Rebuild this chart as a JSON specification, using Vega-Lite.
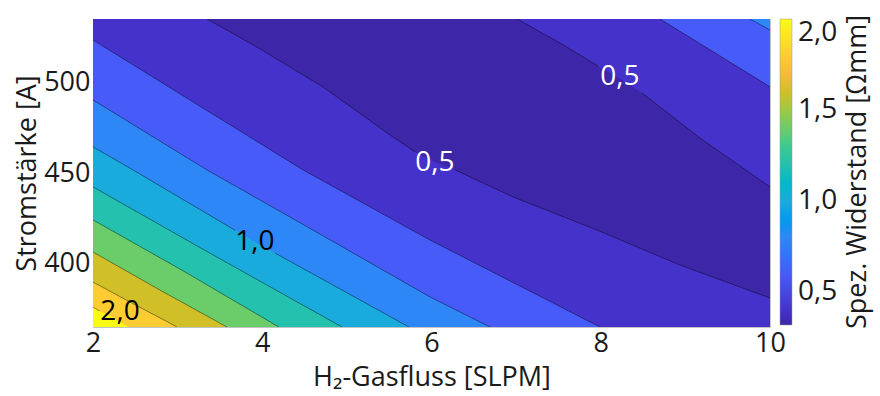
{
  "$schema": "https://vega.github.io/schema/vega-lite/v6.json",
  "width": 677,
  "height": 308,
  "autosize": "none",
  "padding": {"left": 93, "top": 19, "right": 110, "bottom": 69},
  "background": "white",
  "config": {
    "view": {"stroke": "#c4c4c4", "strokeWidth": 1},
    "font": "Open Sans",
    "axis": {"labelFont": "Open Sans", "titleFont": "Open Sans", "labelFontSize": 27, "titleFontSize": 27, "labelColor": "#1a1a1a", "titleColor": "#1a1a1a", "titleFontWeight": "normal", "grid": false, "domain": false, "ticks": false, "labelFlush": false}
  },
  "datasets": {
    "c": [
      {"c": "BG", "v": 2.0, "s": "h", "x": 2, "y": 357.8},
      {"c": "BG", "v": 2.0, "s": "h", "x": 10, "y": 357.8},
      {"c": "L20", "v": 1.8, "s": "a", "x": 2, "y": 376.0},
      {"c": "L20", "v": 1.8, "s": "a", "x": 2.08, "y": 373.8},
      {"c": "L20", "v": 1.8, "s": "h", "x": 2.2, "y": 371.1},
      {"c": "L20", "v": 1.8, "s": "h", "x": 2.4, "y": 365.6},
      {"c": "L20", "v": 1.8, "s": "h", "x": 2.67, "y": 357.8},
      {"c": "L20", "v": 1.8, "s": "h", "x": 10, "y": 357.8},
      {"c": "L18", "v": 1.6, "s": "a", "x": 2, "y": 389.8},
      {"c": "L18", "v": 1.6, "s": "a", "x": 2.48, "y": 377.7},
      {"c": "L18", "v": 1.6, "s": "a", "x": 2.97, "y": 365.6},
      {"c": "L18", "v": 1.6, "s": "a", "x": 3.21, "y": 357.8},
      {"c": "L18", "v": 1.6, "s": "a", "x": 10, "y": 357.8},
      {"c": "L16", "v": 1.4, "s": "a", "x": 2, "y": 406.4},
      {"c": "L16", "v": 1.4, "s": "a", "x": 2.79, "y": 385.4},
      {"c": "L16", "v": 1.4, "s": "a", "x": 3.56, "y": 365.6},
      {"c": "L16", "v": 1.4, "s": "a", "x": 3.86, "y": 357.8},
      {"c": "L16", "v": 1.4, "s": "a", "x": 10, "y": 357.8},
      {"c": "L14", "v": 1.2, "s": "a", "x": 2, "y": 424.1},
      {"c": "L14", "v": 1.2, "s": "a", "x": 3.087, "y": 395.4},
      {"c": "L14", "v": 1.2, "s": "a", "x": 4.174, "y": 365.6},
      {"c": "L14", "v": 1.2, "s": "a", "x": 4.45, "y": 357.8},
      {"c": "L14", "v": 1.2, "s": "a", "x": 10, "y": 357.8},
      {"c": "L12", "v": 1.0, "s": "a", "x": 2, "y": 442.3},
      {"c": "L12", "v": 1.0, "s": "a", "x": 3.44, "y": 404.2},
      {"c": "L12", "v": 1.0, "s": "a", "x": 4.919, "y": 365.6},
      {"c": "L12", "v": 1.0, "s": "a", "x": 5.21, "y": 357.8},
      {"c": "L12", "v": 1.0, "s": "a", "x": 10, "y": 357.8},
      {"c": "L10", "v": 0.8, "s": "a", "x": 2, "y": 464.4},
      {"c": "L10", "v": 0.8, "s": "a", "x": 2.473, "y": 451.7},
      {"c": "L10", "v": 0.8, "s": "a", "x": 3.678, "y": 418.4},
      {"c": "L10", "v": 0.8, "s": "h", "x": 3.914, "y": 411.9},
      {"c": "L10", "v": 0.8, "s": "b", "x": 4.151, "y": 405.8},
      {"c": "L10", "v": 0.8, "s": "b", "x": 5.711, "y": 365.6},
      {"c": "L10", "v": 0.8, "s": "b", "x": 5.98, "y": 357.8},
      {"c": "L10", "v": 0.8, "s": "b", "x": 10, "y": 357.8},
      {"c": "L08", "v": 0.6, "s": "a", "x": 2, "y": 490.3},
      {"c": "L08", "v": 0.6, "s": "a", "x": 3.347, "y": 451.7},
      {"c": "L08", "v": 0.6, "s": "a", "x": 4.682, "y": 416.3},
      {"c": "L08", "v": 0.6, "s": "a", "x": 5.982, "y": 381.6},
      {"c": "L08", "v": 0.6, "s": "a", "x": 6.691, "y": 365},
      {"c": "L08", "v": 0.6, "s": "a", "x": 6.99, "y": 357.8},
      {"c": "L08", "v": 0.6, "s": "a", "x": 10, "y": 357.8},
      {"c": "L06", "v": 0.4, "s": "a", "x": 2, "y": 523.4},
      {"c": "L06", "v": 0.4, "s": "a", "x": 3.241, "y": 487.5},
      {"c": "L06", "v": 0.4, "s": "a", "x": 4.482, "y": 451.7},
      {"c": "L06", "v": 0.4, "s": "a", "x": 5.982, "y": 413.0},
      {"c": "L06", "v": 0.4, "s": "a", "x": 6.987, "y": 389.0},
      {"c": "L06", "v": 0.4, "s": "a", "x": 7.991, "y": 365},
      {"c": "L06", "v": 0.4, "s": "a", "x": 8.29, "y": 357.8},
      {"c": "L06", "v": 0.4, "s": "a", "x": 10, "y": 357.8},
      {"c": "L04a", "v": 0.32, "s": "a", "x": 3.264, "y": 538.3},
      {"c": "L04a", "v": 0.32, "s": "a", "x": 3.347, "y": 535},
      {"c": "L04a", "v": 0.32, "s": "a", "x": 3.938, "y": 519.5},
      {"c": "L04a", "v": 0.32, "s": "a", "x": 4.718, "y": 497.5},
      {"c": "L04a", "v": 0.32, "s": "a", "x": 5.51, "y": 471.0},
      {"c": "L04a", "v": 0.32, "s": "a", "x": 5.805, "y": 461.6},
      {"c": "L04a", "v": 0.32, "s": "h", "x": 6.041, "y": 456.1},
      {"c": "L04a", "v": 0.32, "s": "b", "x": 6.278, "y": 451.7},
      {"c": "L04a", "v": 0.32, "s": "b", "x": 6.963, "y": 436.8},
      {"c": "L04a", "v": 0.32, "s": "b", "x": 7.956, "y": 418.5},
      {"c": "L04a", "v": 0.32, "s": "b", "x": 8.937, "y": 399.2},
      {"c": "L04a", "v": 0.32, "s": "b", "x": 10, "y": 381.0},
      {"c": "L04b", "v": 0.4, "s": "a", "x": 6.869, "y": 538.9},
      {"c": "L04b", "v": 0.4, "s": "a", "x": 7.01, "y": 535},
      {"c": "L04b", "v": 0.4, "s": "a", "x": 7.518, "y": 521.8},
      {"c": "L04b", "v": 0.4, "s": "a", "x": 7.968, "y": 509.1},
      {"c": "L04b", "v": 0.4, "s": "h", "x": 8.227, "y": 502.0},
      {"c": "L04b", "v": 0.4, "s": "b", "x": 8.487, "y": 494.2},
      {"c": "L04b", "v": 0.4, "s": "b", "x": 9.173, "y": 469.3},
      {"c": "L04b", "v": 0.4, "s": "b", "x": 10, "y": 442.3},
      {"c": "L06b", "v": 0.6, "s": "a", "x": 8.523, "y": 540.0},
      {"c": "L06b", "v": 0.6, "s": "a", "x": 8.7, "y": 535},
      {"c": "L06b", "v": 0.6, "s": "a", "x": 9.965, "y": 498.6},
      {"c": "L06b", "v": 0.6, "s": "a", "x": 10, "y": 497.5},
      {"c": "L08b", "v": 0.8, "s": "a", "x": 9.645, "y": 538.3},
      {"c": "L08b", "v": 0.8, "s": "a", "x": 9.764, "y": 535},
      {"c": "L08b", "v": 0.8, "s": "a", "x": 10, "y": 528.9}
    ],
    "labs": [
      {"t": "2,0", "k": "dark", "x": 2.319, "y": 373.3},
      {"t": "1,0", "k": "dark", "x": 3.914, "y": 411.9},
      {"t": "0,5", "k": "light", "x": 6.041, "y": 455.5},
      {"t": "0,5", "k": "light", "x": 8.227, "y": 503.0}
    ]
  },
  "data": {"name": "c"},
  "encoding": {
    "x": {"field": "x", "type": "quantitative", "scale": {"domain": [2, 10], "nice": false, "zero": false},
      "axis": {"values": [2, 4, 6, 8, 10], "title": "H₂-Gasfluss [SLPM]", "labelPadding": 3, "titlePadding": 8}},
    "y": {"field": "y", "type": "quantitative", "scale": {"domain": [365, 535], "nice": false, "zero": false},
      "axis": {"values": [400, 450, 500], "title": "Stromstärke [A]", "labelPadding": 3, "titlePadding": 2}}
  },
  "layer": [
    {"transform": [{"filter": "datum.c === 'BG'"}], "mark": {"type": "area", "clip": true},
      "encoding": {"y2": {"datum": 535},
        "color": {"field": "v", "type": "quantitative",
          "scale": {"domain": [0.32, 0.4, 0.6, 0.8, 1.0, 1.2, 1.4, 1.6, 1.7, 1.8, 2.0],
            "range": ["#3E26A8", "#4432CB", "#475BF9", "#2E87F7", "#1AABDD", "#24C1AE", "#6BCD69", "#D1BF27", "#F6BA3B", "#FDCC32", "#F9FB15"]},
          "legend": {"title": "Spez. Widerstand [Ωmm]", "orient": "right", "offset": 10, "padding": 0, "direction": "vertical",
            "gradientLength": 306, "gradientThickness": 12, "gradientStrokeColor": "#9a9a9a", "gradientStrokeWidth": 0.5,
            "values": [0.5, 1.0, 1.5, 2.0], "labelExpr": "replace(format(datum.value, '.1f'), '.', ',')",
            "labelFont": "Open Sans", "labelFontSize": 28, "labelOffset": 6, "labelColor": "#1a1a1a",
            "titleFont": "Open Sans", "titleFontSize": 27, "titleFontWeight": "normal", "titleColor": "#1a1a1a", "titleLimit": 500,
            "titleOrient": "right", "titleAnchor": "middle", "titlePadding": 8,
            "encode": {"title": {"update": {"angle": {"value": 270}, "baseline": {"value": "top"}}}}}}}},
    {"transform": [{"filter": "datum.c === 'L20'"}], "mark": {"type": "area", "clip": true},
      "encoding": {"y2": {"datum": 535}, "color": {"field": "v", "type": "quantitative"}}},
    {"transform": [{"filter": "datum.c === 'L18'"}], "mark": {"type": "area", "clip": true},
      "encoding": {"y2": {"datum": 535}, "color": {"field": "v", "type": "quantitative"}}},
    {"transform": [{"filter": "datum.c === 'L16'"}], "mark": {"type": "area", "clip": true},
      "encoding": {"y2": {"datum": 535}, "color": {"field": "v", "type": "quantitative"}}},
    {"transform": [{"filter": "datum.c === 'L14'"}], "mark": {"type": "area", "clip": true},
      "encoding": {"y2": {"datum": 535}, "color": {"field": "v", "type": "quantitative"}}},
    {"transform": [{"filter": "datum.c === 'L12'"}], "mark": {"type": "area", "clip": true},
      "encoding": {"y2": {"datum": 535}, "color": {"field": "v", "type": "quantitative"}}},
    {"transform": [{"filter": "datum.c === 'L10'"}], "mark": {"type": "area", "clip": true},
      "encoding": {"y2": {"datum": 535}, "color": {"field": "v", "type": "quantitative"}}},
    {"transform": [{"filter": "datum.c === 'L08'"}], "mark": {"type": "area", "clip": true},
      "encoding": {"y2": {"datum": 535}, "color": {"field": "v", "type": "quantitative"}}},
    {"transform": [{"filter": "datum.c === 'L06'"}], "mark": {"type": "area", "clip": true},
      "encoding": {"y2": {"datum": 535}, "color": {"field": "v", "type": "quantitative"}}},
    {"transform": [{"filter": "datum.c === 'L04a'"}], "mark": {"type": "area", "clip": true},
      "encoding": {"y2": {"datum": 535}, "color": {"field": "v", "type": "quantitative"}}},
    {"transform": [{"filter": "datum.c === 'L04b'"}], "mark": {"type": "area", "clip": true},
      "encoding": {"y2": {"datum": 535}, "color": {"field": "v", "type": "quantitative"}}},
    {"transform": [{"filter": "datum.c === 'L06b'"}], "mark": {"type": "area", "clip": true},
      "encoding": {"y2": {"datum": 535}, "color": {"field": "v", "type": "quantitative"}}},
    {"transform": [{"filter": "datum.c === 'L08b'"}], "mark": {"type": "area", "clip": true},
      "encoding": {"y2": {"datum": 535}, "color": {"field": "v", "type": "quantitative"}}},
    {"transform": [{"filter": "datum.s !== 'h' && datum.c !== 'BG'"}],
      "mark": {"type": "line", "clip": true, "color": "#000000", "strokeWidth": 0.7, "opacity": 0.6},
      "encoding": {"detail": [{"field": "c"}, {"field": "s"}]}},
    {"data": {"name": "labs"}, "transform": [{"filter": "datum.k === 'dark'"}],
      "mark": {"type": "text", "font": "Open Sans", "fontSize": 28, "color": "#000000"},
      "encoding": {"text": {"field": "t"}}},
    {"data": {"name": "labs"}, "transform": [{"filter": "datum.k === 'light'"}],
      "mark": {"type": "text", "font": "Open Sans", "fontSize": 28, "color": "#ffffff"},
      "encoding": {"text": {"field": "t"}}}
  ]
}
